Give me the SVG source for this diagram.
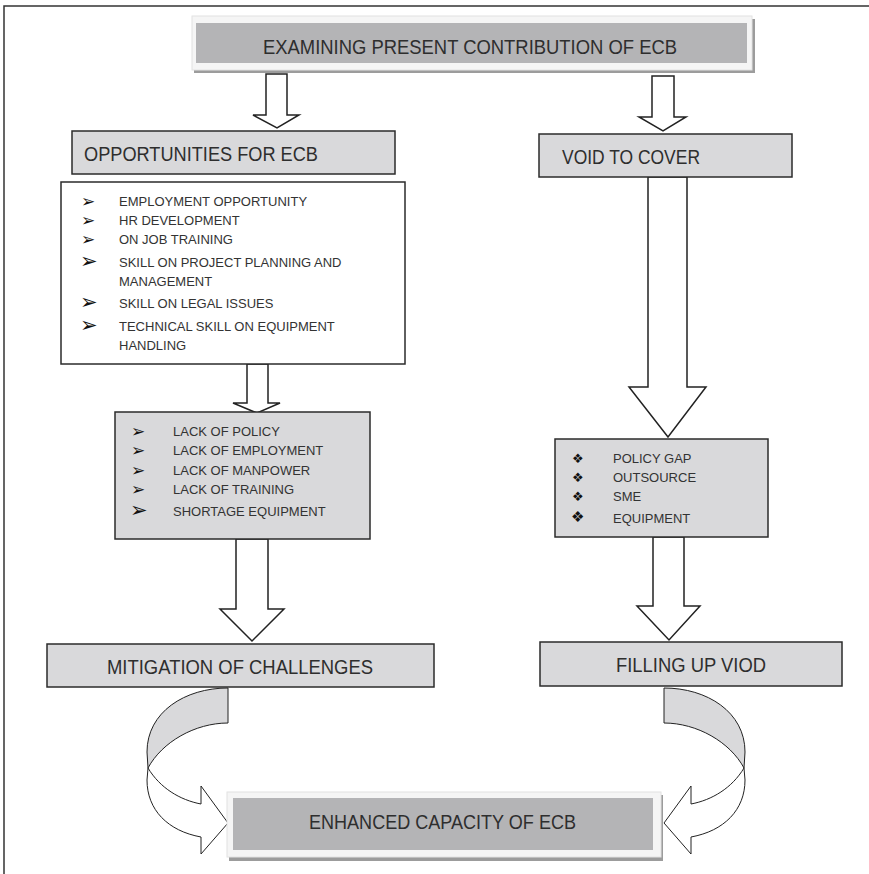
<svg xmlns="http://www.w3.org/2000/svg" width="869" height="874" viewBox="0 0 869 874">
<style>
.box{fill:#d9d9db;stroke:#2b2b2b;stroke-width:1.5}
.wbox{fill:#ffffff;stroke:#2b2b2b;stroke-width:1.5}
.frame{fill:#f5f5f5;stroke:#e2e2e2;stroke-width:1}
.shadow{fill:#9c9c9c}
.dark{fill:#b4b4b6}
.arr{fill:#ffffff;stroke:#222;stroke-width:1.5;stroke-linejoin:miter}
.carrg{fill:#d9d9db;stroke:#222;stroke-width:1}
.carrw{fill:#ffffff;stroke:#222;stroke-width:1}
.h{font-family:"Liberation Sans",Arial,sans-serif;font-size:20.5px;fill:#2e2e2e}
.t{font-family:"Liberation Sans",Arial,sans-serif;font-size:13px;fill:#333}
.b{font-family:"DejaVu Sans",sans-serif;fill:#111}
.bs{font-size:17px}
.bl{font-size:21px}
</style>
<rect x="0" y="0" width="869" height="874" fill="#ffffff"/>
<path d="M4,874 L4,6 L869,6" fill="none" stroke="#333" stroke-width="1.5"/>

<g id="connectors">
<polygon class="arr" points="266,74 287,74 287,115 299,115 277,128 253,115 266,115"/>
<polygon class="arr" points="652,76 674,76 674,117 686,117 663,131 639,117 652,117"/>
<polygon class="arr" points="247,364 268,364 268,403 280,403 257,413 233,403 247,403"/>
<polygon class="arr" points="648,177 687,177 687,387 706,387 668,437 629,387 648,387"/>
<polygon class="arr" points="236,539 268,539 268,609 284,609 252,641 220,609 236,609"/>
<polygon class="arr" points="653,537 684,537 684,606 700,606 669,640 637,606 653,606"/>
<g id="curve-left">
<path class="carrg" d="M228,688 C185,688 147,712 147,752 L148,768 C162,742 195,723 228,723 Z"/>
<path class="carrw" d="M148,768 C160,788 180,800 201,804 L201,786 L228,823 L201,854 L201,837 C168,831 147,810 147,780 Z"/>
</g>
<g id="curve-right" transform="matrix(-1 0 0 1 892 0)">
<path class="carrg" d="M228,688 C185,688 147,712 147,752 L148,768 C162,742 195,723 228,723 Z"/>
<path class="carrw" d="M148,768 C160,788 180,800 201,804 L201,786 L228,823 L201,854 L201,837 C168,831 147,810 147,780 Z"/>
</g>
</g>

<g id="n-title">
<rect class="shadow" x="194" y="19" width="561" height="54"/>
<rect class="frame" x="192" y="16" width="560" height="54"/>
<rect class="dark" x="196" y="23" width="551" height="40"/>
<text class="h" x="263" y="54" textLength="414" lengthAdjust="spacingAndGlyphs">EXAMINING PRESENT CONTRIBUTION OF ECB</text>
</g>

<g id="n-opps">
<rect class="box" x="72" y="131" width="323" height="43"/>
<text class="h" x="84" y="161" textLength="234" lengthAdjust="spacingAndGlyphs">OPPORTUNITIES FOR ECB</text>
</g>

<g id="n-void">
<rect class="box" x="539" y="134" width="253" height="43"/>
<text class="h" x="562" y="164" textLength="138" lengthAdjust="spacingAndGlyphs">VOID TO COVER</text>
</g>

<g id="n-opps-list">
<rect class="wbox" x="61" y="182" width="344" height="182"/>
<text class="b bs" x="81" y="207">➢</text>
<text class="t" x="119" y="206">EMPLOYMENT OPPORTUNITY</text>
<text class="b bs" x="81" y="226">➢</text>
<text class="t" x="119" y="225">HR DEVELOPMENT</text>
<text class="b bs" x="81" y="245">➢</text>
<text class="t" x="119" y="244">ON JOB TRAINING</text>
<text class="b bl" x="80" y="268">➢</text>
<text class="t" x="119" y="267">SKILL ON PROJECT PLANNING AND</text>
<text class="t" x="119" y="286">MANAGEMENT</text>
<text class="b bl" x="80" y="309">➢</text>
<text class="t" x="119" y="308">SKILL ON LEGAL ISSUES</text>
<text class="b bl" x="80" y="332">➢</text>
<text class="t" x="119" y="331">TECHNICAL SKILL ON EQUIPMENT</text>
<text class="t" x="119" y="350">HANDLING</text>
</g>

<g id="n-lack">
<rect class="box" x="115" y="412" width="255" height="127"/>
<text class="b bs" x="131" y="437">➢</text>
<text class="t" x="173" y="436">LACK OF POLICY</text>
<text class="b bs" x="131" y="456">➢</text>
<text class="t" x="173" y="455">LACK OF EMPLOYMENT</text>
<text class="b bs" x="131" y="476">➢</text>
<text class="t" x="173" y="475">LACK OF MANPOWER</text>
<text class="b bs" x="131" y="495">➢</text>
<text class="t" x="173" y="494">LACK OF TRAINING</text>
<text class="b bl" x="130" y="517">➢</text>
<text class="t" x="173" y="516">SHORTAGE EQUIPMENT</text>
</g>

<g id="n-policy">
<rect class="box" x="555" y="439" width="213" height="98"/>
<text class="b" x="572" y="463" font-size="13">❖</text>
<text class="t" x="613" y="463">POLICY GAP</text>
<text class="b" x="572" y="482" font-size="13">❖</text>
<text class="t" x="613" y="482">OUTSOURCE</text>
<text class="b" x="572" y="501" font-size="13">❖</text>
<text class="t" x="613" y="501">SME</text>
<text class="b" x="571" y="522" font-size="15">❖</text>
<text class="t" x="613" y="523">EQUIPMENT</text>
</g>

<g id="n-mitigation">
<rect class="box" x="47" y="644" width="387" height="43"/>
<text class="h" x="107" y="674" textLength="266" lengthAdjust="spacingAndGlyphs">MITIGATION OF CHALLENGES</text>
</g>

<g id="n-filling">
<rect class="box" x="540" y="642" width="302" height="44"/>
<text class="h" x="616" y="672" textLength="150" lengthAdjust="spacingAndGlyphs">FILLING UP VIOD</text>
</g>

<g id="n-enhanced">
<rect class="shadow" x="229" y="795" width="434" height="66"/>
<rect class="frame" x="227" y="792" width="434" height="65"/>
<rect class="dark" x="233" y="798" width="420" height="52"/>
<text class="h" x="309" y="829" textLength="267" lengthAdjust="spacingAndGlyphs">ENHANCED CAPACITY OF ECB</text>
</g>
</svg>
